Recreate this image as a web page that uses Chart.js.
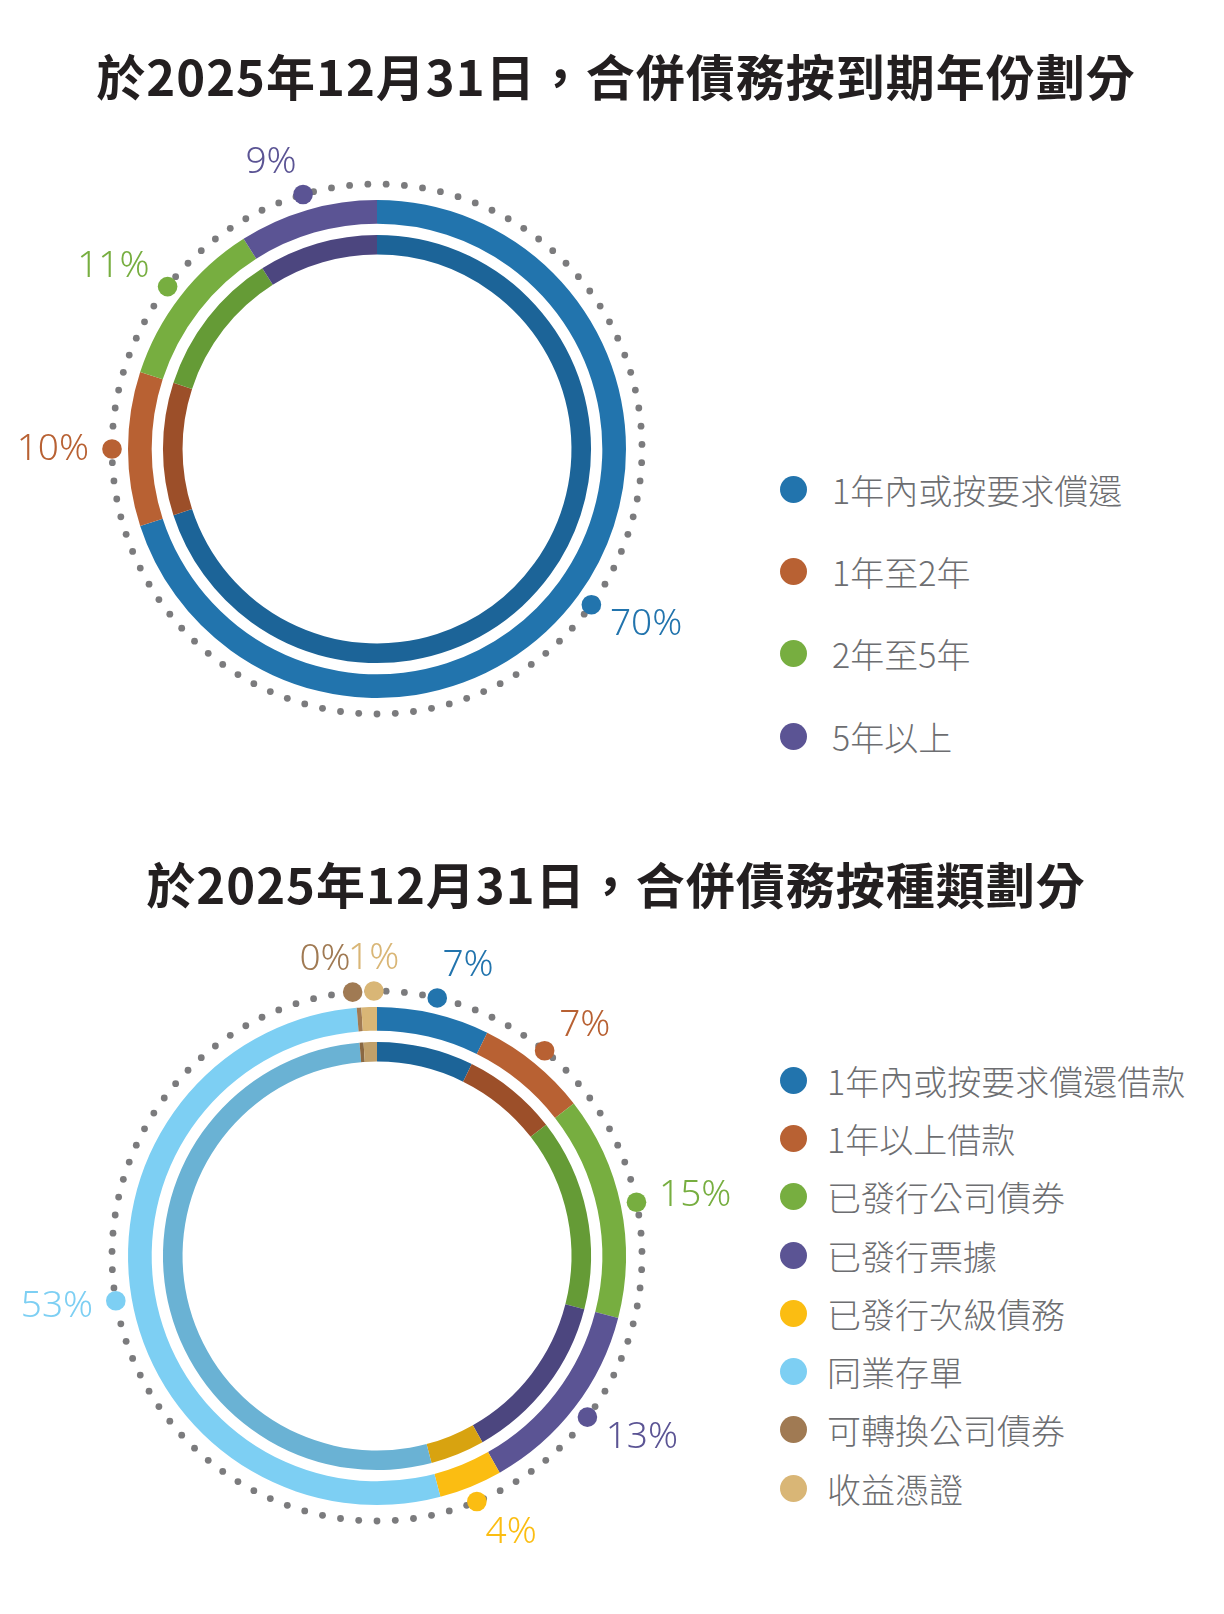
<!DOCTYPE html>
<html>
<head>
<meta charset="utf-8">
<script src="https://cdn.jsdelivr.net/npm/chart.js@4.4.1/dist/chart.umd.min.js"></script>
<style>
    body { margin: 0; background: #fff; width: 1224px; height: 1614px; position: relative;
           font-family: "Noto Sans CJK TC", "Noto Sans", sans-serif; }
    .title { position: absolute; left: 4px; width: 1224px; text-align: center; font-size: 49px;
             font-weight: 700; color: #231f20; line-height: 49px; white-space: nowrap; letter-spacing: 1px; }
    .box { position: absolute; left: 0; width: 754px; height: 680px; }
    .legend { position: absolute; left: 780px; }
    .legend-item { display: flex; align-items: center; font-size: 34px; font-weight: 300; color: #6d6e71; white-space: nowrap; }
    .legend-dot { width: 27px; height: 27px; border-radius: 50%; flex: none; }
</style>
</head>
<body>
<div class="title" style="top:50px">於2025年12月31日，合併債務按到期年份劃分</div>
<div class="box" style="top:109px"><canvas id="maturityChart"></canvas></div>
<div class="legend" id="maturityLegend" style="top:448px"></div>

<div class="title" style="top:858px">於2025年12月31日，合併債務按種類劃分</div>
<div class="box" style="top:916px"><canvas id="typeChart"></canvas></div>
<div class="legend" id="typeLegend" style="top:1051px"></div>

<script>
/* ── data ── */
var maturityLabels = ['1年內或按要求償還', '1年至2年', '2年至5年', '5年以上'];
var maturityValues = [70, 10, 11, 9];
var maturityColors = ['#2274ad', '#b86133', '#77ae40', '#5b5494'];
var maturityInner  = ['#1c6498', '#9c4f29', '#659b36', '#4c467f'];

var typeLabels = ['1年內或按要求償還借款', '1年以上借款', '已發行公司債券', '已發行票據',
                  '已發行次級債務', '同業存單', '可轉換公司債券', '收益憑證'];
var typeValues = [7.3, 7.2, 14.5, 12.8, 4.1, 52.8, 0.3, 1.0];
var typeColors = ['#2274ad', '#b86133', '#77ae40', '#5b5494', '#fbbd12', '#7dcff3', '#a07a53', '#d9b676'];
var typeInner  = ['#1c6498', '#9c4f29', '#659b36', '#4c467f', '#d8a310', '#6ab2d4', '#8a6842', '#c1a06a'];

/* ── dotted ring, markers and % labels ── */
var ringDecor = {
    id: 'ringDecor',
    afterDatasetsDraw: function (chart) {
        var arcs = chart.getDatasetMeta(0).data;
        if (!arcs.length) return;
        var ctx = chart.ctx;
        var cx = arcs[0].x, cy = arcs[0].y;
        var r = arcs[0].outerRadius + 16;
        var vals = chart.data.datasets[0].data;
        var cols = chart.data.datasets[0].backgroundColor;
        var total = vals.reduce(function (a, b) { return a + b; }, 0);

        ctx.save();
        ctx.fillStyle = '#7b7b7d';
        var n = 91;
        for (var k = 0; k < n; k++) {
            var t = -Math.PI / 2 + (k + 0.5) * 2 * Math.PI / n;
            ctx.beginPath();
            ctx.arc(cx + r * Math.cos(t), cy + r * Math.sin(t), 3.4, 0, 2 * Math.PI);
            ctx.fill();
        }

        // marker angles at slice middles, pushed apart when they crowd
        var pts = arcs.map(function (a, i) { return { i: i, a: (a.startAngle + a.endAngle) / 2 }; });
        pts.sort(function (p, q) { return p.a - q.a; });
        var minSep = 4.6 * Math.PI / 180;
        for (var j = 1; j < pts.length; j++) {
            if (pts[j].a - pts[j - 1].a < minSep) {
                var m = (pts[j].a + pts[j - 1].a) / 2;
                pts[j - 1].a = m - minSep / 2;
                pts[j].a = m + minSep / 2;
            }
        }

        ctx.font = '300 37px "Noto Sans", "Open Sans", sans-serif';
        ctx.textBaseline = 'middle';
        pts.forEach(function (p) {
            var c = Math.cos(p.a), s = Math.sin(p.a);
            var mx = cx + r * c, my = cy + r * s;
            ctx.fillStyle = cols[p.i];
            ctx.beginPath();
            ctx.arc(mx, my, 9.8, 0, 2 * Math.PI);
            ctx.fill();
            ctx.textAlign = c < -0.05 ? 'right' : (c > 0.05 ? 'left' : 'center');
            ctx.fillText(Math.round(vals[p.i] / total * 100) + '%', mx + c * 23, my + s * 33);
        });
        ctx.restore();
    }
};

function buildRing(canvas, labels, values, colors, inner) {
    new Chart(canvas, {
        type: 'doughnut',
        data: {
            labels: labels,
            datasets: [
                { data: values, backgroundColor: colors, borderWidth: 0, weight: 23.7 },
                { data: values, backgroundColor: 'rgba(0,0,0,0)', borderWidth: 0, weight: 11.3 },
                { data: values, backgroundColor: inner, borderWidth: 0, weight: 19.6 }
            ]
        },
        options: {
            responsive: true,
            maintainAspectRatio: false,
            animation: false,
            events: [],
            radius: 249,
            cutout: '78.1%',
            hoverOffset: 0,
            plugins: { legend: { display: false }, tooltip: { enabled: false } }
        },
        plugins: [ringDecor]
    });
}

function buildLegend(el, labels, colors, rowH, gap) {
    labels.forEach(function (lbl, i) {
        el.innerHTML +=
            '<div class="legend-item" style="height:' + rowH + 'px">'
            + '<span class="legend-dot" style="background:' + colors[i] + '"></span>'
            + '<span style="margin-left:' + gap + 'px">' + lbl + '</span>'
            + '</div>';
    });
}

buildRing(document.getElementById('maturityChart'), maturityLabels, maturityValues, maturityColors, maturityInner);
buildRing(document.getElementById('typeChart'), typeLabels, typeValues, typeColors, typeInner);
buildLegend(document.getElementById('maturityLegend'), maturityLabels, maturityColors, 82.3, 25);
buildLegend(document.getElementById('typeLegend'), typeLabels, typeColors, 58.3, 20);
</script>
</body>
</html>
